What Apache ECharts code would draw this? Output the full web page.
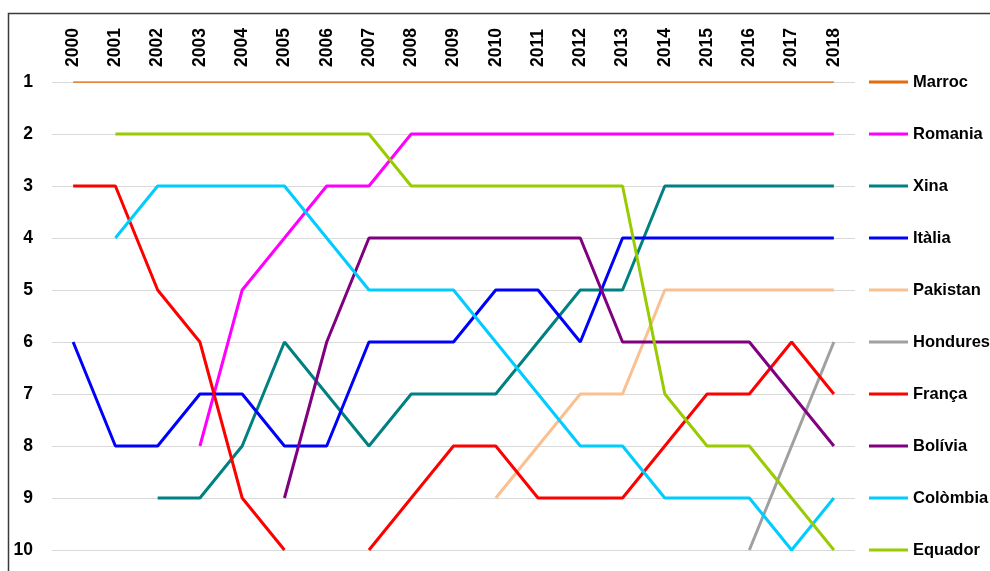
<!DOCTYPE html>
<html>
<head>
<meta charset="utf-8">
<script src="https://cdn.jsdelivr.net/npm/echarts@6/dist/echarts.min.js"></script>
<style>
  html, body { margin: 0; padding: 0; background: #fff; }
  #rankChart { width: 990px; height: 571px; }
</style>
</head>
<body>
<div id="rankChart"></div>
<script>
// anys i posicions (rànquing)
const years = ['2000', '2001', '2002', '2003', '2004', '2005', '2006', '2007', '2008', '2009',
  '2010', '2011', '2012', '2013', '2014', '2015', '2016', '2017', '2018'];
const rankTicks = [1, 2, 3, 4, 5, 6, 7, 8, 9, 10];

const countries = ['Marroc', 'Romania', 'Xina', 'Itàlia', 'Pakistan', 'Hondures', 'França', 'Bolívia', 'Colòmbia', 'Equador'];

const marroc   = [1, 1, 1, 1, 1, 1, 1, 1, 1, 1, 1, 1, 1, 1, 1, 1, 1, 1, 1];
const romania  = [null, null, null, 8, 5, 4, 3, 3, 2, 2, 2, 2, 2, 2, 2, 2, 2, 2, 2];
const xina     = [null, null, 9, 9, 8, 6, 7, 8, 7, 7, 7, 6, 5, 5, 3, 3, 3, 3, 3];
const italia   = [6, 8, 8, 7, 7, 8, 8, 6, 6, 6, 5, 5, 6, 4, 4, 4, 4, 4, 4];
const pakistan = [null, null, null, null, null, null, null, null, null, null, 9, 8, 7, 7, 5, 5, 5, 5, 5];
const hondures = [null, null, null, null, null, null, null, null, null, null, null, null, null, null, null, null, 10, 8, 6];
const franca   = [3, 3, 5, 6, 9, 10, null, 10, 9, 8, 8, 9, 9, 9, 8, 7, 7, 6, 7];
const bolivia  = [null, null, null, null, null, 9, 6, 4, 4, 4, 4, 4, 4, 6, 6, 6, 6, 7, 8];
const colombia = [null, 4, 3, 3, 3, 3, 4, 5, 5, 5, 6, 7, 8, 8, 9, 9, 9, 10, 9];
const equador  = [null, 2, 2, 2, 2, 2, 2, 2, 3, 3, 3, 3, 3, 3, 7, 8, 8, 9, 10];

const seriesData = [marroc, romania, xina, italia, pakistan, hondures, franca, bolivia, colombia, equador];
const colors = ['#E46C0A', '#FF00FF', '#008080', '#0000FF', '#FAC090', '#A0A0A0', '#FF0000', '#800080', '#00CCFF', '#99CC00'];

var chartDom = document.getElementById('rankChart');
var myChart = echarts.init(chartDom);
var option;

const labelFont = '"Liberation Sans", Arial, sans-serif';

const series = countries.map((name, i) => {
  return {
    name: name,
    type: 'line',
    data: seriesData[i],
    symbol: 'none',
    connectNulls: false,
    lineStyle: {
      width: i === 0 ? 1.5 : 3,
      color: colors[i]
    },
    itemStyle: { color: colors[i] }
  };
});

option = {
  animation: false,
  color: colors,
  graphic: [{
    type: 'rect',
    shape: { x: 8.5, y: 13.5, width: 1000, height: 600 },
    style: { fill: 'none', stroke: '#3a3a3a', lineWidth: 1.5 },
    silent: true
  }],
  grid: {
    left: 52,
    right: 135,
    top: 82,
    bottom: 21
  },
  legend: {
    orient: 'vertical',
    left: 869,
    top: 72,
    padding: 0,
    icon: 'rect',
    itemWidth: 39,
    itemHeight: 3,
    itemGap: 32,
    textStyle: {
      fontFamily: labelFont,
      fontWeight: 'bold',
      fontSize: 16.5,
      lineHeight: 20,
      color: '#000'
    },
    data: countries
  },
  xAxis: {
    type: 'category',
    position: 'top',
    boundaryGap: true,
    data: years,
    axisLine: { show: false },
    axisTick: { show: false },
    axisLabel: {
      rotate: -90,
      margin: 15,
      fontFamily: labelFont,
      fontWeight: 'bold',
      fontSize: 17.5,
      color: '#000'
    }
  },
  yAxis: {
    type: 'value',
    inverse: true,
    min: 1,
    max: 10,
    interval: 1,
    axisLine: { show: false },
    axisTick: { show: false },
    axisLabel: {
      margin: 19,
      fontFamily: labelFont,
      fontWeight: 'bold',
      fontSize: 17.5,
      color: '#000',
      formatter: (v) => rankTicks.includes(v) ? String(v) : ''
    },
    splitLine: {
      show: true,
      lineStyle: { color: '#D9D9D9', width: 1 }
    }
  },
  series
};

option && myChart.setOption(option);
</script>
</body>
</html>
